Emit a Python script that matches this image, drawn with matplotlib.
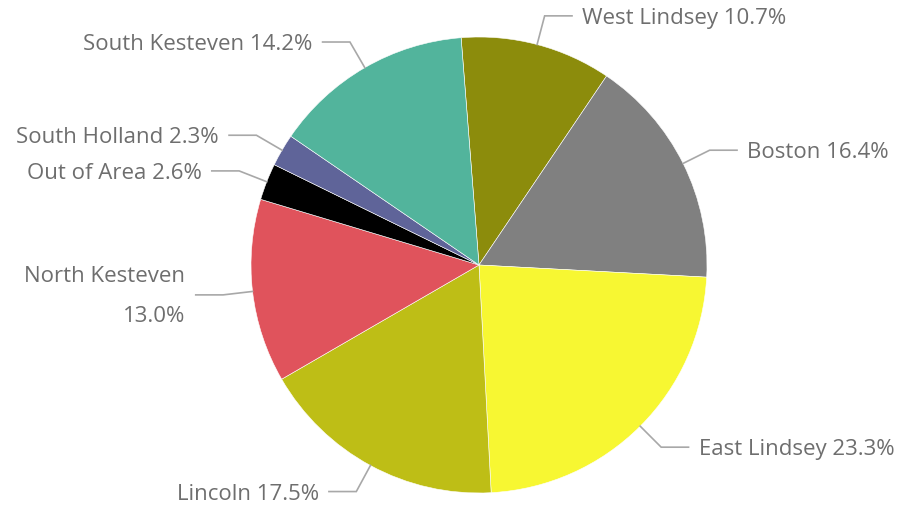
import numpy as np
import matplotlib
matplotlib.use('Agg')
import matplotlib.pyplot as plt

plt.rcParams['font.family'] = ['Open Sans', 'DejaVu Sans']

# share of records by district
districts = ['West Lindsey', 'Boston', 'East Lindsey', 'Lincoln',
             'North Kesteven', 'Out of Area', 'South Holland', 'South Kesteven']
shares = [10.7, 16.4, 23.3, 17.5, 13.0, 2.6, 2.3, 14.2]
colors = ['#8c8c0c', '#808080', '#f7f732', '#bebe16',
          '#e0535c', '#000000', '#5f6499', '#52b49c']

W, H = 899, 509
cx, cy, R = 479, 265, 228  # pie centre and radius in pixels

fig = plt.figure(figsize=(W / 100, H / 100), dpi=100)
ax = fig.add_axes([0, 0, 1, 1])

wedges, _ = ax.pie(shares, colors=colors, startangle=94.5, counterclock=False,
                   wedgeprops=dict(edgecolor='white', linewidth=0.4))

ax.set_xlim(-cx / R, (W - cx) / R)
ax.set_ylim(-(H - cy) / R, cy / R)
ax.set_aspect('equal')
ax.axis('off')

line_col = '#a8a8a8'
text_col = '#6e6e6e'
fs = 16

for w, name, val in zip(wedges, districts, shares):
    ang = np.deg2rad((w.theta1 + w.theta2) / 2)
    ca, sa = np.cos(ang), np.sin(ang)
    x0, y0 = 1.0 * ca, 1.0 * sa
    x1, y1 = 1.13 * ca, 1.13 * sa
    side = 1 if ca >= 0 else -1
    x2 = x1 + side * 0.12
    ax.plot([x0, x1, x2], [y0, y1, y1], color=line_col, lw=1.2,
            solid_joinstyle='miter')
    ha = 'left' if side > 0 else 'right'
    tx = x2 + side * 0.045
    if name == 'North Kesteven':
        ax.text(tx, y1 + 0.08, name, ha=ha, va='center', fontsize=fs, color=text_col)
        ax.text(tx, y1 - 0.095, f'{val:.1f}%', ha=ha, va='center',
                fontsize=fs, color=text_col)
    else:
        ax.text(tx, y1 - 0.012, f'{name} {val:.1f}%', ha=ha, va='center',
                fontsize=fs, color=text_col)

fig.savefig('out.png', dpi=100)
